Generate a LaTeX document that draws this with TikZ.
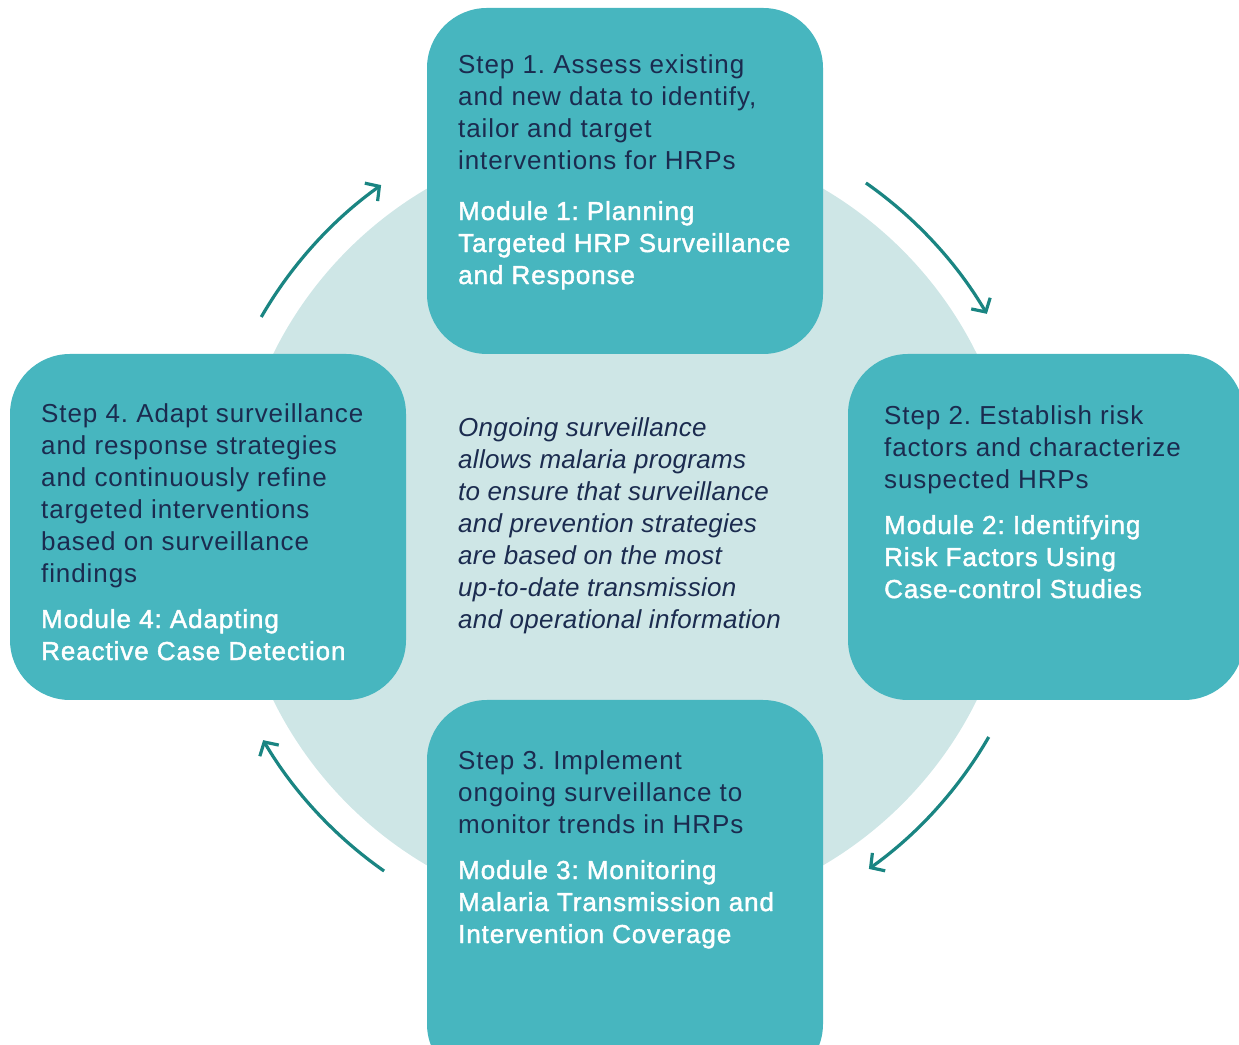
\documentclass[tikz,border=0pt]{standalone}
\usepackage{fontspec}
\setmainfont[LetterSpace=3.5]{Liberation Sans}
\newfontfamily\modfont[FakeBold=1.6,LetterSpace=3.5]{Liberation Sans}
\newfontfamily\notefont[LetterSpace=1.2]{Liberation Sans}
\usetikzlibrary{arrows.meta,calc}
\definecolor{boxteal}{HTML}{47B6BF}
\definecolor{ringfill}{HTML}{CEE6E6}
\definecolor{navytext}{HTML}{1B2B4F}
\definecolor{arrowteal}{HTML}{1A8582}
\frenchspacing
\tikzset{
  stagebox/.style={fill=boxteal, rounded corners=60pt},
  steptext/.style={anchor=north west, inner sep=0pt, align=left, text=navytext,
    font=\fontsize{26}{32}\selectfont},
  modtext/.style={anchor=north west, inner sep=0pt, align=left, text=white,
    font=\modfont\fontsize{26}{32}\selectfont},
  notetext/.style={anchor=north west, inner sep=0pt, align=left, text=navytext,
    font=\notefont\itshape\fontsize{26}{32}\selectfont},
  cyclearrow/.style={draw=arrowteal, line width=3.2pt,
    -{Straight Barb[length=10pt,width=22pt,line width=3.2pt]}}
}
\begin{document}
\begin{tikzpicture}[x=1pt,y=1pt]
\useasboundingbox (0,0) rectangle (1239,1044);
\clip (0,0) rectangle (1239,1044);
\coordinate (c) at (625,517);
% background disc
\fill[ringfill] (c) circle[radius=392];
% the four stage boxes
\fill[stagebox] (427,690) rectangle (823,1036);
\fill[stagebox] (848,344) rectangle (1244,690);
\fill[stagebox] (427,-40) rectangle (823,344);
\fill[stagebox] (10,344) rectangle (406,690);
% step 1
\node[steptext] (s1) at (458,990) {Step 1. Assess existing\\and new data to identify,\\tailor and target\\interventions for HRPs};
\node[modtext] (m1) at (458,843) {Module 1: Planning\\Targeted HRP Surveillance\\and Response};
% step 2
\node[steptext] (s2) at (884,639) {Step 2. Establish risk\\factors and characterize\\suspected HRPs};
\node[modtext] (m2) at (884,529) {Module 2: Identifying\\Risk Factors Using\\Case-control Studies};
% step 3
\node[steptext] (s3) at (458,294) {Step 3. Implement\\ongoing surveillance to\\monitor trends in HRPs};
\node[modtext] (m3) at (458,184) {Module 3: Monitoring\\Malaria Transmission and\\Intervention Coverage};
% step 4
\node[steptext] (s4) at (41,641) {Step 4. Adapt surveillance\\and response strategies\\and continuously refine\\targeted interventions\\based on surveillance\\findings};
\node[modtext] (m4) at (41,435) {Module 4: Adapting\\Reactive Case Detection};
% central note
\node[notetext] (note) at (458,627) {Ongoing surveillance\\allows malaria programs\\to ensure that surveillance\\and prevention strategies\\are based on the most\\up-to-date transmission\\and operational information};
% cycle arrows between the stages
\coordinate (a4s) at ($(c)+(150:420)$);
\coordinate (a1s) at ($(c)+(55:420)$);
\coordinate (a2s) at ($(c)+(-30:420)$);
\coordinate (a3s) at ($(c)+(-125:420)$);
\draw[cyclearrow] (a4s) arc[start angle=150, end angle=125.5, radius=420];
\draw[cyclearrow] (a1s) arc[start angle=55, end angle=30.5, radius=420];
\draw[cyclearrow] (a2s) arc[start angle=-30, end angle=-54.5, radius=420];
\draw[cyclearrow] (a3s) arc[start angle=-125, end angle=-149.5, radius=420];
\end{tikzpicture}
\end{document}
